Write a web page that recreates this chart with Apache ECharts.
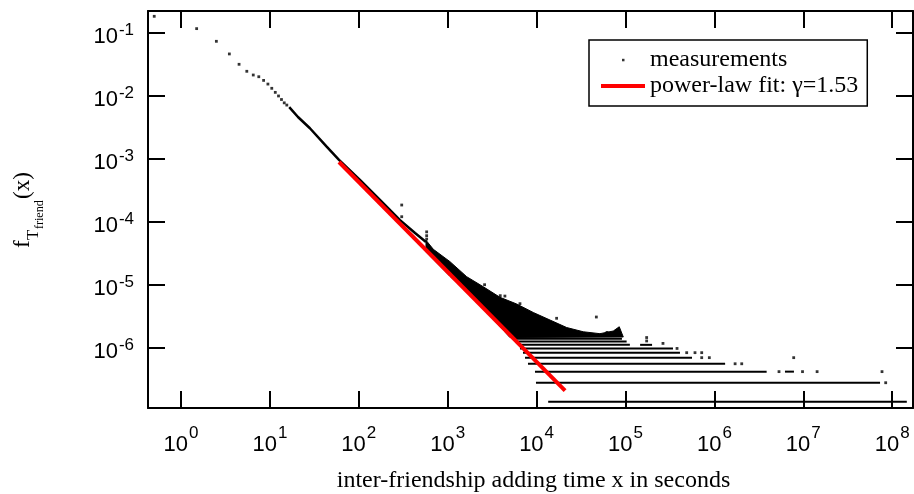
<!DOCTYPE html>
<html><head><meta charset="utf-8">
<script src="https://cdn.jsdelivr.net/npm/echarts@6/dist/echarts.min.js"></script>
<style>html,body{margin:0;padding:0;background:#fff}#c{width:914px;height:494px}</style>
</head><body><div id="c"></div>
<script>
// ---- data ----
const headX = [0.5, 1.5, 2.5, 3.5, 4.5, 5.5, 6.5, 7.5, 8.5, 9.5, 10.5, 11.5, 12.5, 13.5, 14.5, 15.5];
const headY = [0.182, 0.116, 0.073, 0.046, 0.0315, 0.0244, 0.0213, 0.0200, 0.0175, 0.0153, 0.0131, 0.0113, 0.0099, 0.0087, 0.0077, 0.0071];

const trendX = [16.5, 20.7, 28.2, 43.5, 59.9, 103, 173, 291, 429, 570];
const trendY = [0.0066, 0.00459, 0.00304, 0.00155, 0.000957, 0.000459, 0.000221, 0.000106, 6.62e-5, 4.77e-5];

const cloudX = [570, 689, 1062, 1636, 2512, 3874, 5971, 9183, 14150, 21800, 33500, 51600, 72900, 85100, 94400, 5023, 2307, 1062, 570];
const cloudY = [5.08e-5, 3.65e-5, 2.32e-5, 1.34e-5, 9.29e-6, 6.31e-6, 4.94e-6, 3.62e-6, 2.75e-6, 2.09e-6, 1.79e-6, 1.67e-6, 1.84e-6, 2.15e-6, 1.48e-6, 1.45e-6, 4.85e-6, 1.36e-5, 3.30e-5];

const segY     = [1.39e-7, 2.78e-7, 4.17e-7, 5.56e-7, 6.95e-7, 8.34e-7, 9.73e-7, 1.11e-6, 1.25e-6, 1.39e-6, 1.11e-6, 4.17e-7];
const segStart = [1.35e4, 9.84e3, 9.59e3, 8.0e3, 7.41e3, 7.03e3, 6.5e3, 6.18e3, 5.86e3, 5.57e3, 1.46e5, 6.22e6];
const segEnd   = [1.46e8, 7.3e7, 3.87e6, 1.32e6, 5.6e5, 4.1e5, 3.42e5, 1.12e5, 1.03e5, 9.12e4, 1.99e5, 7.85e6];

const dotX = [304, 304, 580, 580, 580, 2600, 3900, 4400, 6500, 1.68e4, 4.7e4, 6.2e4, 1.73e5, 1.73e5, 2.64e5, 3.8e5, 4.88e5, 6.05e5, 7.2e5, 7.2e5, 8.77e5, 7.8e6, 1.71e6, 2.03e6, 5.33e6, 9.8e6, 1.43e7, 7.68e7, 8.45e7];
const dotY = [1.84e-4, 1.2e-4, 6.9e-5, 6.0e-5, 5.3e-5, 1.0e-5, 6.7e-6, 6.6e-6, 5.0e-6, 2.93e-6, 3.07e-6, 1.75e-6, 1.45e-6, 1.28e-6, 1.17e-6, 9.73e-7, 8.34e-7, 8.34e-7, 8.34e-7, 6.95e-7, 6.95e-7, 6.95e-7, 5.56e-7, 5.56e-7, 4.17e-7, 4.17e-7, 4.17e-7, 4.17e-7, 2.78e-7];

const fitX = [59.9, 2.09e4];
const fitY = [8.87e-4, 2.08e-7];

const xRange = [0.4255, 1.714e8];
const yRange = [1.104e-7, 0.221];

const xTitle = 'inter-friendship adding time x in seconds';
const yTitleParts = ['f', 'T', 'friend', '(x)'];
const seriesNames = ['measurements', 'power-law fit: γ=1.53'];
// ------------------------------------------------

const zip = (a, b) => a.map((v, i) => [v, b[i]]);

function powLabel(v) {
  const e = Math.log10(v);
  const r = Math.round(e);
  if (Math.abs(e - r) > 1e-6) return '';
  return '{b|10}{e|' + r + '}';
}

const axisLineStyle = { color: '#000', width: 2 };
const tickStyle = { show: true, inside: true, length: 17, lineStyle: { color: '#000', width: 2 } };
const serif = '"Liberation Serif", "Times New Roman", serif';

const chart = echarts.init(document.getElementById('c'), null, { renderer: 'canvas' });
chart.setOption({
  animation: false,
  backgroundColor: '#fff',
  grid: { left: 148, right: 1, top: 11, bottom: 86, outerBoundsMode: 'none', containLabel: false },
  xAxis: [{
    type: 'log', min: xRange[0], max: xRange[1], position: 'bottom',
    axisLine: { show: true, lineStyle: axisLineStyle },
    axisTick: tickStyle, minorTick: { show: false }, splitLine: { show: false },
    axisLabel: {
      margin: 17, formatter: powLabel, hideOverlap: false,
      rich: {
        b: { fontFamily: 'Liberation Sans', fontSize: 22, color: '#000', lineHeight: 31, verticalAlign: 'bottom' },
        e: { fontFamily: 'Liberation Sans', fontSize: 17, color: '#000', verticalAlign: 'top', padding: [0, 0, 0, 1] }
      }
    },
    name: xTitle, nameLocation: 'middle', nameGap: 61,
    nameTextStyle: { fontFamily: serif, fontSize: 24, color: '#000', padding: [0, 0, 0, 6] }
  }, {
    type: 'log', min: xRange[0], max: xRange[1], position: 'top',
    axisLine: { show: true, lineStyle: axisLineStyle },
    axisTick: tickStyle, axisLabel: { show: false }, minorTick: { show: false }, splitLine: { show: false }
  }],
  yAxis: [{
    type: 'log', min: yRange[0], max: yRange[1], position: 'left',
    axisLine: { show: true, lineStyle: axisLineStyle },
    axisTick: tickStyle, minorTick: { show: false }, splitLine: { show: false },
    axisLabel: {
      margin: 14, formatter: powLabel, hideOverlap: false,
      rich: {
        b: { fontFamily: 'Liberation Sans', fontSize: 22, color: '#000', lineHeight: 31, verticalAlign: 'bottom' },
        e: { fontFamily: 'Liberation Sans', fontSize: 17, color: '#000', verticalAlign: 'top', padding: [5, 0, 0, 1] }
      }
    }
  }, {
    type: 'log', min: yRange[0], max: yRange[1], position: 'right',
    axisLine: { show: true, lineStyle: axisLineStyle },
    axisTick: tickStyle, axisLabel: { show: false }, minorTick: { show: false }, splitLine: { show: false }
  }],
  legend: {
    orient: 'vertical', left: 589, top: 40, padding: [7, 9, 7, 12], itemGap: 0,
    itemWidth: 44, itemHeight: 14, borderColor: '#000', borderWidth: 1.5, backgroundColor: '#fff',
    textStyle: { fontFamily: serif, fontSize: 24, color: '#000', lineHeight: 26 },
    selectedMode: false,
    data: [
      { name: seriesNames[0], icon: 'path://M0,0M44,14M21,5.8h2.5v2.5h-2.5z', itemStyle: { color: '#000' } },
      { name: seriesNames[1], icon: 'path://M0,0h44v4h-44z', itemStyle: { color: '#ff0000' } }
    ]
  },
  graphic: [{
    type: 'group', x: 23, y: 248, rotation: Math.PI / 2,
    children: [
      { type: 'text', x: 0, y: 0, style: { text: yTitleParts[0], font: '23px ' + serif, fill: '#000', verticalAlign: 'middle', align: 'left' } },
      { type: 'text', x: 8, y: 11, style: { text: yTitleParts[1], font: '17px ' + serif, fill: '#000', verticalAlign: 'middle', align: 'left' } },
      { type: 'text', x: 19, y: 17, style: { text: yTitleParts[2], font: '12px ' + serif, fill: '#000', verticalAlign: 'middle', align: 'left' } },
      { type: 'text', x: 49, y: 0, style: { text: yTitleParts[3], font: '23px ' + serif, fill: '#000', verticalAlign: 'middle', align: 'left' } }
    ]
  }],
  series: [{
    name: seriesNames[0], type: 'scatter', data: zip(headX, headY),
    symbol: 'rect', symbolSize: 2.8, itemStyle: { color: '#000' }, z: 2
  }, {
    name: seriesNames[0], type: 'line', data: zip(trendX, trendY),
    symbol: 'none', lineStyle: { color: '#000', width: 2.5 }, itemStyle: { color: '#000' }, z: 2
  }, {
    name: seriesNames[0], type: 'custom', data: zip(cloudX, cloudY),
    encode: { x: 0, y: 1 }, itemStyle: { color: '#000' }, z: 2,
    renderItem: function (params, api) {
      if (params.dataIndex !== 0) return null;
      const pts = cloudX.map((x, i) => api.coord([x, cloudY[i]]));
      return { type: 'polygon', shape: { points: pts }, style: { fill: '#000', stroke: '#000', lineWidth: 1 } };
    }
  }, {
    name: seriesNames[0], type: 'custom', data: segStart.map((s, i) => [s, segEnd[i], segY[i]]),
    encode: { x: [0, 1], y: 2 }, itemStyle: { color: '#000' }, z: 2,
    renderItem: function (params, api) {
      const p1 = api.coord([api.value(0), api.value(2)]);
      const p2 = api.coord([api.value(1), api.value(2)]);
      return { type: 'line', shape: { x1: p1[0], y1: p1[1], x2: p2[0], y2: p2[1] }, style: { stroke: '#000', lineWidth: 2 } };
    }
  }, {
    name: seriesNames[0], type: 'scatter', data: zip(dotX, dotY),
    symbol: 'rect', symbolSize: 2.8, itemStyle: { color: '#000' }, z: 2
  }, {
    name: seriesNames[1], type: 'line', data: zip(fitX, fitY),
    symbol: 'none', lineStyle: { color: '#ff0000', width: 4 }, itemStyle: { color: '#ff0000' }, z: 5
  }]
});
</script></body></html>
